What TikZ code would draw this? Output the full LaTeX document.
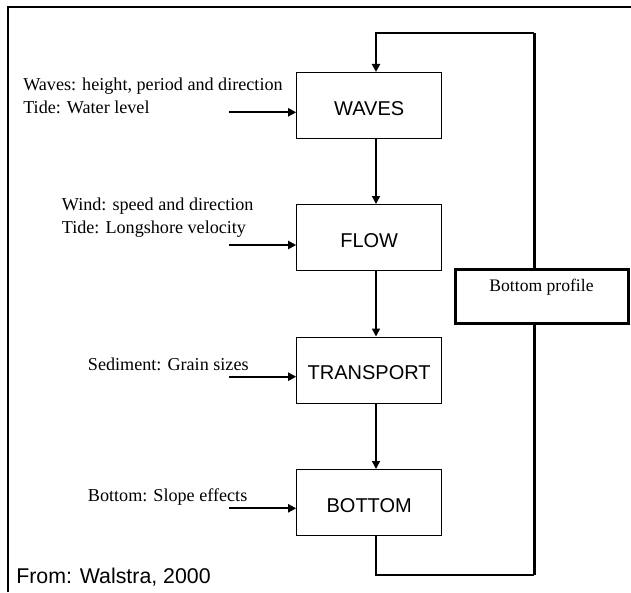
\documentclass[tikz,border=0pt]{standalone}
\usepackage{fontspec}
\setmainfont{Liberation Serif}
\setsansfont{Liberation Sans}
\usetikzlibrary{arrows.meta}

\begin{document}
\begin{tikzpicture}[x=0.75pt,y=-0.75pt,>={Triangle[length=6pt,width=6pt]},
    block/.style={draw,line width=0.75pt,minimum width=108.75pt,minimum height=49.5pt,
      font=\sffamily\fontsize{15}{17}\selectfont,text height=14.5pt,text depth=0pt},
    input/.style={inner sep=0pt,align=left,font=\fontsize{13.6}{16.9}\selectfont},
    inarrow/.style={->,line width=1.5pt},
    down/.style={->,line width=1.1pt},
    thinfeed/.style={line width=1.5pt},
    feed/.style={line width=2.25pt}]
    \useasboundingbox (0,0) rectangle (631,592);
    \draw[line width=1.5pt] (8,592) -- (8,7) -- (631,7);

    % model chain
    \node[block] (waves) at (369.2,105.5) {WAVES};
    \node[block] (flow) at (369.2,237.5) {FLOW};
    \node[block] (transport) at (369.2,370) {TRANSPORT};
    \node[block] (bottom) at (369.2,502.5) {BOTTOM};
    \node[draw,line width=2.25pt,minimum width=129.75pt,minimum height=40.5pt,
      font=\fontsize{13.2}{15}\selectfont,text height=9pt,text depth=16pt] (profile) at (541.5,296) {Bottom profile};

    % inputs
    \node[input,anchor=west] (wavesin) at (23,95.6) {Waves: height, period and direction\\Tide: Water level};
    \node[input,anchor=west] (flowin) at (61.6,217.5) {Wind: speed and direction\\Tide: Longshore velocity};
    \node[input,anchor=base west] (transin) at (87.7,370.5) {Sediment: Grain sizes};
    \node[input,anchor=base west] (bottomin) at (87.7,501.5) {Bottom: Slope effects};
    \node[anchor=west,inner sep=0pt,font=\sffamily\fontsize{16}{18}\selectfont] (source) at (16,577) {From: Walstra, 2000};

    \coordinate (wavestail) at (229.4,112.3);
    \coordinate (flowtail) at (229.4,245);
    \coordinate (transtail) at (229.4,376.7);
    \coordinate (bottomtail) at (229.4,508.3);
    \draw[inarrow] (wavestail) -- (wavestail -| waves.west);
    \draw[inarrow] (flowtail) -- (flowtail -| flow.west);
    \draw[inarrow] (transtail) -- (transtail -| transport.west);
    \draw[inarrow] (bottomtail) -- (bottomtail -| bottom.west);

    \coordinate (spine) at (376,0);
    \draw[down] (waves.south -| spine) -- (flow.north -| spine);
    \draw[down] (flow.south -| spine) -- (transport.north -| spine);
    \draw[down] (transport.south -| spine) -- (bottom.north -| spine);

    % feedback loop
    \coordinate (lowright) at (534,575);
    \coordinate (topright) at (534,33);
    \draw[thinfeed] (bottom.south -| spine) |- (lowright);
    \draw[feed] (lowright) -- (profile.south -| lowright);
    \draw[feed] (profile.north -| lowright) -- (topright);
    \draw[thinfeed,->] (topright) -| (waves.north -| spine);
\end{tikzpicture}
\end{document}
